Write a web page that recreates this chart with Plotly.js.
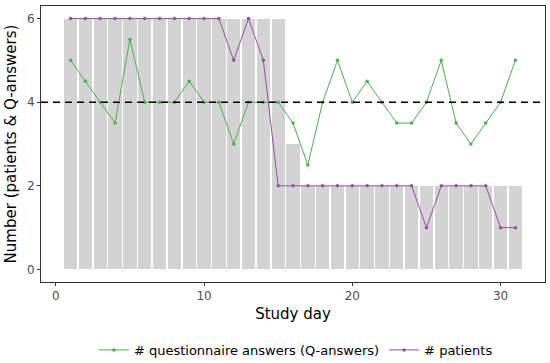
<!DOCTYPE html>
<html>
<head>
<meta charset="utf-8">
<script src="https://cdn.plot.ly/plotly-3.0.1.min.js"></script>
<style>html,body{margin:0;padding:0;background:#fff;}#chart{width:550px;height:363px;}</style>
</head>
<body>
<div id="chart"></div>
<script>
const days = [1,2,3,4,5,6,7,8,9,10,11,12,13,14,15,16,17,18,19,20,21,22,23,24,25,26,27,28,29,30,31];
const barValues = [6,6,6,6,6,6,6,6,6,6,6,6,6,6,6,3,2,2,2,2,2,2,2,2,2,2,2,2,2,2,2];
const qAnswers = [5,4.5,4,3.5,5.5,4,4,4,4.5,4,4,3,4,4,4,3.5,2.5,4,5,4,4.5,4,3.5,3.5,4,5,3.5,3,3.5,4,5];
const patients = [6,6,6,6,6,6,6,6,6,6,6,5,6,5,2,2,2,2,2,2,2,2,2,2,1,2,2,2,2,1,1];
const threshold = 4;
const xTicks = [0,10,20,30];
const yTicks = [0,2,4,6];

const font = "DejaVu Sans, Verdana, sans-serif";
const traces = [
  {type:'bar', x:days, y:barValues, width:0.9, marker:{color:'#D3D3D3', line:{width:0}}, showlegend:false, hoverinfo:'skip'},
  {type:'scatter', mode:'lines+markers', x:days, y:qAnswers, name:'# questionnaire answers (Q-answers)',
   line:{color:'#4DAF4A', width:1}, marker:{color:'#4DAF4A', size:3.5}},
  {type:'scatter', mode:'lines+markers', x:days, y:patients, name:'# patients',
   line:{color:'#984EA3', width:1}, marker:{color:'#984EA3', size:3.5}}
];
const layout = {
  width:550, height:363,
  margin:{l:41, r:5, t:6, b:81},
  paper_bgcolor:'#fff', plot_bgcolor:'#fff',
  font:{family:font, color:'#4D4D4D', size:12},
  showlegend:true,
  bargap:0,
  xaxis:{range:[-0.995,32.995], tickvals:xTicks, ticks:'outside', ticklen:3, tickcolor:'#333', tickwidth:1,
    showline:true, mirror:true, linecolor:'#333', linewidth:1, showgrid:false, zeroline:false,
    tickfont:{family:font, size:12, color:'#4D4D4D'},
    title:{text:'Study day', font:{family:font, size:15, color:'#000'}, standoff:6}, automargin:false},
  yaxis:{range:[-0.3,6.3], tickvals:yTicks, ticks:'outside', ticklen:3, tickcolor:'#333', tickwidth:1,
    showline:true, mirror:true, linecolor:'#333', linewidth:1, showgrid:false, zeroline:false,
    tickfont:{family:font, size:12, color:'#4D4D4D'},
    title:{text:'Number (patients & Q-answers)', font:{family:font, size:15, color:'#000'}, standoff:6}, automargin:false},
  shapes:[{type:'line', xref:'paper', x0:0, x1:1, yref:'y', y0:threshold, y1:threshold,
    line:{color:'#000', width:1.5, dash:'7px,5px'}, layer:'above'}],
  legend:{orientation:'h', xref:'container', x:0.538, xanchor:'center', yref:'container', y:0.036, yanchor:'middle',
    font:{family:font, size:13, color:'#000'}, itemwidth:30, bgcolor:'rgba(0,0,0,0)'}
};
Plotly.newPlot('chart', traces, layout, {displayModeBar:false, staticPlot:true});
</script>
</body>
</html>
